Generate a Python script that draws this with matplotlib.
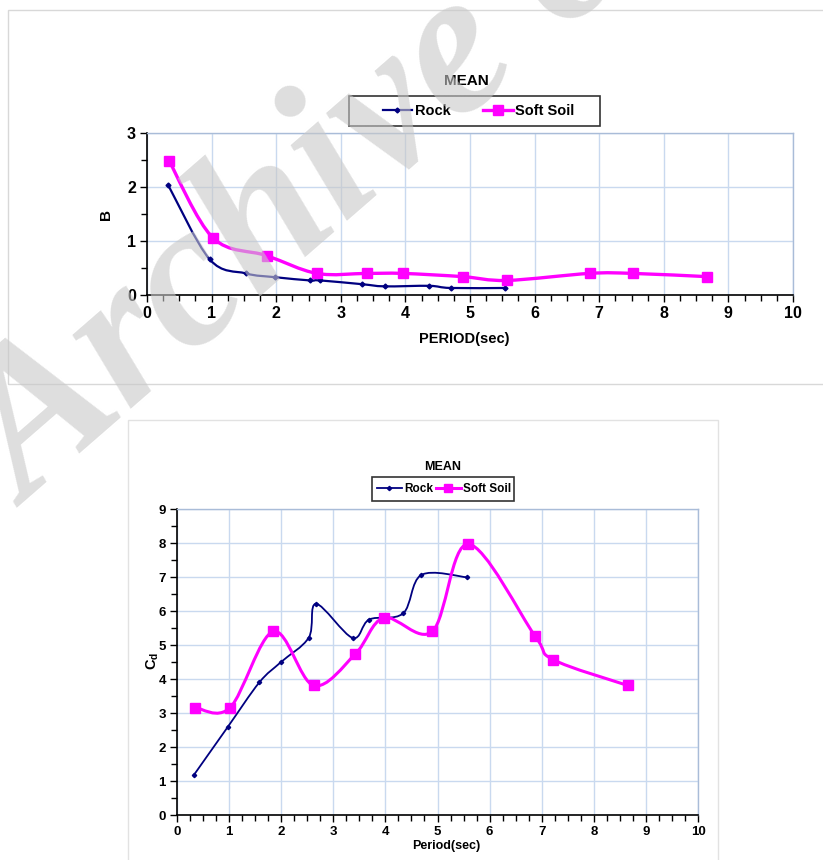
import numpy as np
import matplotlib
matplotlib.use("Agg")
import matplotlib.pyplot as plt
from matplotlib.path import Path
from matplotlib.patches import PathPatch, Rectangle
from matplotlib.lines import Line2D
from matplotlib.ticker import MultipleLocator

# Data: B (top chart)
b_rock_x = [0.33, 0.97, 1.53, 1.98, 2.52, 2.68, 3.33, 3.68, 4.37, 4.70, 5.54]
b_rock_y = [2.03, 0.66, 0.40, 0.33, 0.27, 0.27, 0.20, 0.16, 0.17, 0.13, 0.13]
b_soil_x = [0.34, 1.02, 1.85, 2.63, 3.40, 3.96, 4.89, 5.57, 6.85, 7.52, 8.67]
b_soil_y = [2.49, 1.06, 0.73, 0.40, 0.40, 0.40, 0.34, 0.27, 0.40, 0.40, 0.34]

# Data: Cd (bottom chart)
cd_rock_x = [0.33, 0.97, 1.58, 1.99, 2.53, 2.67, 3.37, 3.69, 4.34, 4.69, 5.57]
cd_rock_y = [1.19, 2.58, 3.90, 4.49, 5.22, 6.21, 5.21, 5.75, 5.93, 7.06, 6.99]
cd_soil_x = [0.35, 1.02, 1.85, 2.62, 3.42, 3.97, 4.90, 5.59, 6.87, 7.22, 8.65]
cd_soil_y = [3.16, 3.16, 5.40, 3.81, 4.73, 5.80, 5.40, 7.97, 5.27, 4.57, 3.81]

series_names = ["Rock", "Soft Soil"]
rock_color = "#000080"
soil_color = "#ff00ff"
grid_color = "#c9d9ef"

FONT = ["Liberation Sans", "DejaVu Sans"]


def smooth_path(x, y):
    # Excel-like smoothed line: cubic bezier through the points
    pts = np.column_stack([x, y]).astype(float)
    n = len(pts)
    verts = [pts[0]]
    codes = [Path.MOVETO]
    for i in range(n - 1):
        p0 = pts[i - 1] if i > 0 else pts[i]
        p1 = pts[i]
        p2 = pts[i + 1]
        p3 = pts[i + 2] if i + 2 < n else pts[i + 1]
        verts += [p1 + (p2 - p0) / 6, p2 - (p3 - p1) / 6, p2]
        codes += [Path.CURVE4] * 3
    return Path(verts, codes)


def draw_series(ax, x, y, color, lw, marker, ms):
    patch = PathPatch(smooth_path(x, y), fill=False, edgecolor=color, lw=lw,
                      joinstyle="round", capstyle="round", zorder=3)
    ax.add_patch(patch)
    ax.plot(x, y, linestyle="none", marker=marker, markersize=ms,
            color=color, markeredgecolor=color, zorder=4)


def style_axes(ax, ymax, fs):
    ax.set_xlim(0, 10)
    ax.set_ylim(0, ymax)
    ax.xaxis.set_major_locator(MultipleLocator(1))
    ax.xaxis.set_minor_locator(MultipleLocator(0.25))
    ax.yaxis.set_major_locator(MultipleLocator(1))
    ax.yaxis.set_minor_locator(MultipleLocator(0.5))
    ax.grid(True, which="major", color=grid_color, lw=1.0, zorder=0)
    ax.set_axisbelow(True)
    for s in ["top", "right"]:
        ax.spines[s].set_color("#a9bcd8")
        ax.spines[s].set_linewidth(1.0)
    for s in ["left", "bottom"]:
        ax.spines[s].set_color("black")
        ax.spines[s].set_linewidth(1.2)
    ax.tick_params(which="major", direction="out", length=5, width=1.0,
                   labelsize=fs, pad=3)
    ax.tick_params(which="minor", direction="out", length=4, width=1.0)
    for lab in ax.get_xticklabels() + ax.get_yticklabels():
        lab.set_family(FONT)
        lab.set_fontweight("bold")


fig = plt.figure(figsize=(8.23, 8.6), dpi=100)
W, H = 823.0, 860.0


def fig_box(x0, y0, x1, y1, color, lw):
    # rectangle given in pixels from the top-left corner
    fig.patches.append(Rectangle((x0 / W, 1 - y1 / H), (x1 - x0) / W, (y1 - y0) / H,
                                 transform=fig.transFigure, fill=False,
                                 edgecolor=color, lw=lw))


# outer chart frames
fig_box(8, 10, 830, 384, "#d8d8d8", 1.0)
fig_box(128, 420, 718, 870, "#e2e2e2", 1.0)

# ---- top chart: B ----
ax1 = fig.add_axes([147 / W, 1 - 295 / H, 646 / W, 162 / H])
draw_series(ax1, b_rock_x, b_rock_y, rock_color, 1.6, "D", 2.5)
draw_series(ax1, b_soil_x, b_soil_y, soil_color, 2.4, "s", 7)
style_axes(ax1, 3, 11.5)
fig.text(466 / W, 1 - 81 / H, "MEAN", ha="center", va="center",
         family=FONT, fontweight="bold", fontsize=11)
fig.text(464 / W, 1 - 339 / H, "PERIOD(sec)", ha="center", va="center",
         family=FONT, fontweight="bold", fontsize=10.5)
fig.text(106 / W, 1 - 214 / H, "B", ha="center", va="center", rotation=90,
         family=FONT, fontweight="bold", fontsize=11)

h1 = [Line2D([], [], color=rock_color, lw=1.6, marker="D", markersize=2.5),
      Line2D([], [], color=soil_color, lw=2.4, marker="s", markersize=7)]
fig.legend(h1, series_names, loc="center",
           bbox_to_anchor=(478.5 / W, 1 - 111 / H), ncol=2,
           frameon=False, handlelength=2.05,
           handletextpad=0.15, columnspacing=2.25, borderpad=0,
           borderaxespad=0,
           prop={"family": FONT, "weight": "bold", "size": 10.5})
fig_box(349, 96, 600, 126, "#333333", 1.2)

# ---- bottom chart: Cd ----
ax2 = fig.add_axes([177 / W, 1 - 815 / H, 521 / W, 306 / H])
draw_series(ax2, cd_rock_x, cd_rock_y, rock_color, 1.3, "D", 2.2)
draw_series(ax2, cd_soil_x, cd_soil_y, soil_color, 2.2, "s", 6.5)
style_axes(ax2, 9, 9.5)
fig.text(443 / W, 1 - 467 / H, "MEAN", ha="center", va="center",
         family=FONT, fontweight="bold", fontsize=9)
fig.text(446 / W, 1 - 846 / H, "Period(sec)", ha="center", va="center",
         family=FONT, fontweight="bold", fontsize=9)
fig.text(153 / W, 1 - 661 / H, r"C$_\mathregular{d}$", ha="center", va="center",
         rotation=90, family=FONT, fontweight="bold", fontsize=10.5)

h2 = [Line2D([], [], color=rock_color, lw=1.3, marker="D", markersize=2.2),
      Line2D([], [], color=soil_color, lw=2.2, marker="s", markersize=6)]
fig.legend(h2, series_names, loc="center",
           bbox_to_anchor=(444 / W, 1 - 489 / H), ncol=2,
           frameon=False, handlelength=2.1,
           handletextpad=0.2, columnspacing=0.25, borderpad=0,
           borderaxespad=0,
           prop={"family": FONT, "weight": "bold", "size": 8.5})
fig_box(372, 477, 514, 501, "#333333", 1.2)

# watermark
fig.text(28 / W, 1 - 508 / H, "Archive of SID", rotation=41, rotation_mode="anchor",
         ha="left", va="baseline", fontsize=148, family="Liberation Serif",
         fontweight="bold", style="italic", color="#c8c8c8", alpha=0.6, zorder=10)

fig.savefig("out.png", dpi=100)
